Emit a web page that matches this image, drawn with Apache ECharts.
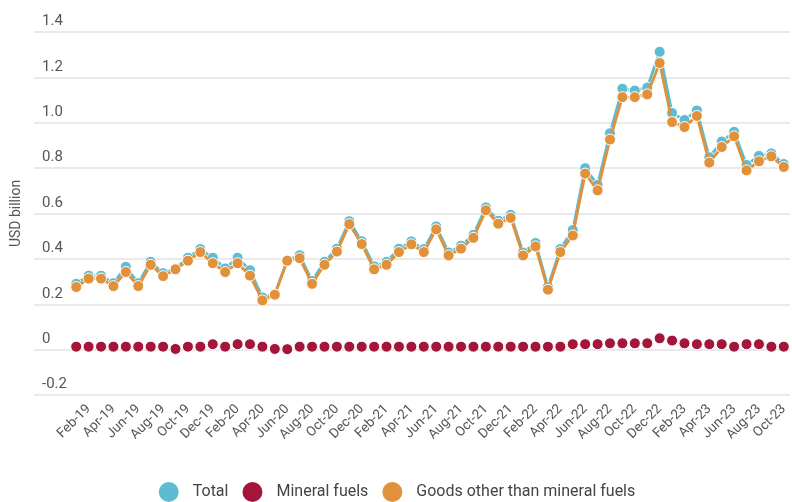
<!DOCTYPE html>
<html>
<head>
<meta charset="utf-8">
<script src="https://cdn.jsdelivr.net/npm/echarts@6/dist/echarts.min.js"></script>
<style>
  html, body { margin: 0; padding: 0; background: #fff; }
  #chart { width: 792px; height: 502px; }
</style>
</head>
<body>
<div id="chart"></div>
<script>
// Monthly trade values, Jan-2019 to Oct-2023, USD billion
const months = [
  'Jan-19','Feb-19','Mar-19','Apr-19','May-19','Jun-19','Jul-19','Aug-19','Sep-19','Oct-19','Nov-19','Dec-19',
  'Jan-20','Feb-20','Mar-20','Apr-20','May-20','Jun-20','Jul-20','Aug-20','Sep-20','Oct-20','Nov-20','Dec-20',
  'Jan-21','Feb-21','Mar-21','Apr-21','May-21','Jun-21','Jul-21','Aug-21','Sep-21','Oct-21','Nov-21','Dec-21',
  'Jan-22','Feb-22','Mar-22','Apr-22','May-22','Jun-22','Jul-22','Aug-22','Sep-22','Oct-22','Nov-22','Dec-22',
  'Jan-23','Feb-23','Mar-23','Apr-23','May-23','Jun-23','Jul-23','Aug-23','Sep-23','Oct-23'
];

const total = [
  0.290, 0.326, 0.326, 0.293, 0.365, 0.293, 0.387, 0.337, 0.357, 0.405, 0.443, 0.405,
  0.358, 0.405, 0.350, 0.230, 0.245, 0.394, 0.416, 0.303, 0.387, 0.445, 0.566, 0.478,
  0.367, 0.387, 0.445, 0.477, 0.443, 0.543, 0.428, 0.458, 0.506, 0.627, 0.568, 0.594,
  0.428, 0.470, 0.277, 0.443, 0.527, 0.800, 0.726, 0.954, 1.150, 1.142, 1.155, 1.313,
  1.043, 1.012, 1.054, 0.848, 0.917, 0.960, 0.814, 0.854, 0.865, 0.818
];

const mineralFuels = [
  0.013, 0.013, 0.013, 0.013, 0.013, 0.013, 0.013, 0.013, 0.003, 0.013, 0.013, 0.024,
  0.013, 0.024, 0.024, 0.013, 0.003, 0.002, 0.013, 0.013, 0.013, 0.013, 0.013, 0.013,
  0.013, 0.013, 0.013, 0.013, 0.013, 0.013, 0.013, 0.013, 0.013, 0.013, 0.013, 0.013,
  0.013, 0.013, 0.013, 0.013, 0.024, 0.024, 0.024, 0.028, 0.028, 0.028, 0.028, 0.050,
  0.040, 0.028, 0.024, 0.024, 0.024, 0.013, 0.024, 0.024, 0.013, 0.013
];

const otherGoods = [
  0.276, 0.313, 0.313, 0.280, 0.342, 0.280, 0.374, 0.324, 0.354, 0.392, 0.430, 0.381,
  0.342, 0.381, 0.326, 0.217, 0.242, 0.392, 0.403, 0.290, 0.374, 0.432, 0.553, 0.465,
  0.354, 0.374, 0.430, 0.464, 0.430, 0.530, 0.415, 0.445, 0.493, 0.614, 0.555, 0.581,
  0.415, 0.455, 0.264, 0.430, 0.503, 0.776, 0.702, 0.926, 1.113, 1.113, 1.125, 1.263,
  1.003, 0.981, 1.030, 0.824, 0.893, 0.940, 0.790, 0.830, 0.852, 0.805
];

const yMin = -0.2, yMax = 1.4, yStep = 0.2;

const COLORS = { total: '#5dbcd2', fuels: '#a3163a', goods: '#e0913a' };
const FONT = 'Roboto, "Noto Sans", sans-serif';

const chart = echarts.init(document.getElementById('chart'), null, { renderer: 'canvas' });

const gridTop = 32, gridBottom = 107;

function lineSeries(name, data, color, showLine, z) {
  return {
    name: name,
    type: 'line',
    xAxisIndex: 1,
    yAxisIndex: 1,
    data: data,
    z: z,
    symbol: 'circle',
    symbolSize: 11,
    showSymbol: true,
    showAllSymbol: true,
    itemStyle: { color: color, borderColor: '#fff', borderWidth: 1 },
    lineStyle: showLine ? { color: color, width: 2.8 } : { width: 0, opacity: 0 },
    emphasis: { disabled: true },
    animation: false
  };
}

chart.setOption({
  backgroundColor: '#fff',
  animation: false,
  textStyle: { fontFamily: FONT },
  grid: [
    // wide grid carrying the value gridlines and tick labels
    { left: 34, right: 2, top: gridTop, bottom: gridBottom },
    // data grid
    { left: 70, right: 2, top: gridTop, bottom: gridBottom }
  ],
  legend: {
    bottom: -2,
    left: 'center',
    padding: [0, 5],
    itemWidth: 22,
    itemHeight: 22,
    itemGap: 12,
    icon: 'circle',
    textStyle: { fontFamily: FONT, fontSize: 16, color: '#444', padding: [0, 0, 0, 8] },
    data: ['Total', 'Mineral fuels', 'Goods other than mineral fuels']
  },
  xAxis: [
    {
      gridIndex: 0,
      type: 'category',
      data: months,
      show: false
    },
    {
      gridIndex: 1,
      type: 'category',
      data: months,
      boundaryGap: true,
      axisLine: { show: false },
      axisTick: { show: false },
      axisLabel: {
        rotate: 45,
        interval: (idx) => idx % 2 === 1,
        fontFamily: FONT,
        fontSize: 13.5,
        color: '#555',
        margin: 12
      }
    }
  ],
  yAxis: [
    {
      gridIndex: 0,
      type: 'value',
      min: yMin,
      max: yMax,
      interval: yStep,
      name: 'USD billion',
      nameLocation: 'middle',
      nameGap: 11,
      nameTextStyle: { fontFamily: FONT, fontSize: 14, color: '#555' },
      axisLine: { show: false },
      axisTick: { show: false },
      splitLine: { lineStyle: { color: '#e3e3e3', width: 1.5 } },
      axisLabel: {
        inside: true,
        verticalAlign: 'bottom',
        padding: [0, 0, 3, 0],
        fontFamily: FONT,
        fontSize: 15,
        color: '#555',
        formatter: (v) => {
          const r = Math.round(v * 10) / 10;
          return r === 0 ? '0' : r.toFixed(1);
        }
      }
    },
    {
      gridIndex: 1,
      type: 'value',
      min: yMin,
      max: yMax,
      interval: yStep,
      show: false,
      splitLine: { show: false }
    }
  ],
  series: [
    lineSeries('Total', total, COLORS.total, true, 2),
    lineSeries('Mineral fuels', mineralFuels, COLORS.fuels, false, 3),
    lineSeries('Goods other than mineral fuels', otherGoods, COLORS.goods, true, 4)
  ]
});
</script>
</body>
</html>
